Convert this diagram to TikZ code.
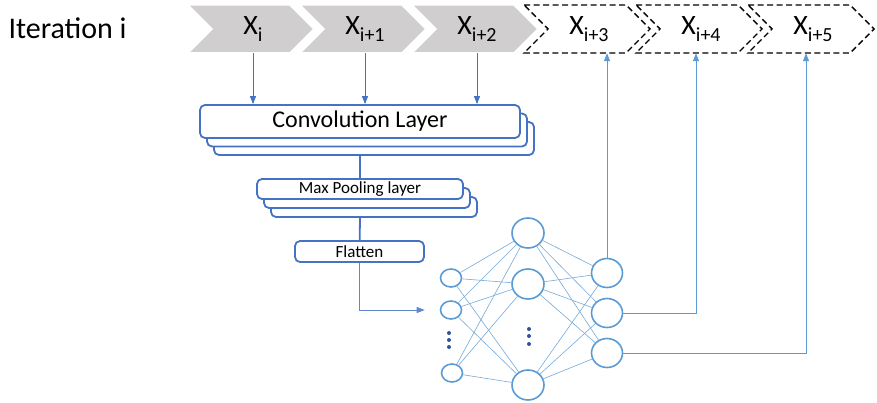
\documentclass[tikz,border=0pt]{standalone}
\usepackage{fontspec}
\setmainfont{Carlito}
\usetikzlibrary{arrows.meta,shapes.geometric,calc}
\definecolor{Navy}{HTML}{4472C4}
\definecolor{Sky}{HTML}{5B9BD5}
\definecolor{Stone}{HTML}{D0CECE}
\definecolor{Ink}{HTML}{2F5597}
\newcommand{\pxfont}[1]{\fontsize{#1}{#1}\selectfont}
\newcommand{\xlab}[1]{\pxfont{28}X\raisebox{-7pt}{\pxfont{20}#1}}

\begin{document}
\begin{tikzpicture}[x=1pt,y=-1pt,
    layer/.style={draw=Navy,line width=1.8pt,fill=white,rounded corners=5pt,inner sep=0pt},
    neuron/.style={ellipse,draw=Sky,line width=1.6pt,fill=white,inner sep=0pt},
    link/.style={Sky!85,line width=0.6pt},
    feed/.style={-{Triangle[length=8pt,width=6pt]},Navy,line width=0.8pt},
    slot/.style={minimum width=126pt,minimum height=48pt,inner sep=0pt}]
    \useasboundingbox (0,0) rectangle (877,403);
    \node[anchor=west] (iter) at (5,28) {\pxfont{30}Iteration i};
    \foreach \k/\t in {1/i,2/i+1,3/i+2}{
      \pgfmathsetmacro\l{76+112*\k}
      \draw[fill=Stone,draw=white,line width=1.5pt] (\l,5) -- ++(102,0) -- ++(24,24) -- ++(-24,24) -- ++(-102,0) -- ++(24,-24) -- cycle;
      \node[slot] (c\k) at (\l+65,29) {\xlab{\t}};
    }
    \foreach \k/\t in {4/i+3,5/i+4,6/i+5}{
      \pgfmathsetmacro\l{76+112*\k}
      \draw[black,line width=1.4pt,dash pattern=on 6pt off 3.5pt] (\l,5) -- ++(102,0) -- ++(24,24) -- ++(-24,24) -- ++(-102,0) -- ++(24,-24) -- cycle;
      \node[slot] (c\k) at (\l+65,29) {\xlab{\t}};
    }
    \node[layer,minimum width=320pt,minimum height=33pt] (convC) at (374,138.5) {};
    \node[layer,minimum width=320pt,minimum height=33pt] (convB) at (367,130) {};
    \node[layer,minimum width=320pt,minimum height=33pt] (convA) at (360,121.5) {\pxfont{24}Convolution Layer};
    \node[layer,minimum width=206pt,minimum height=20pt] (poolC) at (374,207) {};
    \node[layer,minimum width=206pt,minimum height=20pt] (poolB) at (367,198) {};
    \node[layer,minimum width=206pt,minimum height=20pt] (poolA) at (360,189) {\pxfont{17}Max Pooling layer};
    \node[layer,minimum width=129pt,minimum height=21pt] (flat) at (359.5,251.5) {\pxfont{17}Flatten};
    \foreach \k in {1,2,3}\draw[feed] (c\k.south) -- (c\k.south |- convA.north);
    \draw[Navy,line width=1.8pt] (convA.south |- convC.south) -- (convA.south |- poolA.north);
    \draw[Navy,line width=1.8pt] (poolA.south |- poolC.south) -- (flat);
    \node[neuron,minimum width=21pt,minimum height=18pt] (i1) at (451,278) {};
    \node[neuron,minimum width=21pt,minimum height=18pt] (i2) at (451,310) {};
    \node[neuron,minimum width=21pt,minimum height=18pt] (i3) at (452,373) {};
    \node[neuron,minimum width=32pt,minimum height=30pt] (h1) at (528,233) {};
    \node[neuron,minimum width=32pt,minimum height=30pt] (h2) at (528,284) {};
    \node[neuron,minimum width=32pt,minimum height=30pt] (h3) at (528,385) {};
    \node[neuron,minimum width=31pt,minimum height=29pt] (o1) at (607,273) {};
    \node[neuron,minimum width=31pt,minimum height=29pt] (o2) at (607,313) {};
    \node[neuron,minimum width=31pt,minimum height=29pt] (o3) at (607,353) {};
    \foreach \a in {i1,i2,i3}\foreach \b in {h1,h2,h3}\draw[link] (\a) -- (\b);
    \foreach \a in {h1,h2,h3}\foreach \b in {o1,o2,o3}\draw[link] (\a) -- (\b);
    \foreach \y in {333,340,347}\fill[Ink] (449,\y) circle (2pt);
    \foreach \y in {329,336,344}\fill[Ink] (529,\y) circle (2pt);
    \draw[feed,Navy!85] (flat) |- (i2) [shorten >=15pt];
    \draw[feed,Sky] (o1) -- (o1 |- c4.south);
    \draw[feed,Sky] (o2) -| ([xshift=-5pt]c5.south);
    \draw[feed,Sky] (o3) -| ([xshift=-7pt]c6.south);
  \end{tikzpicture}
\end{document}
